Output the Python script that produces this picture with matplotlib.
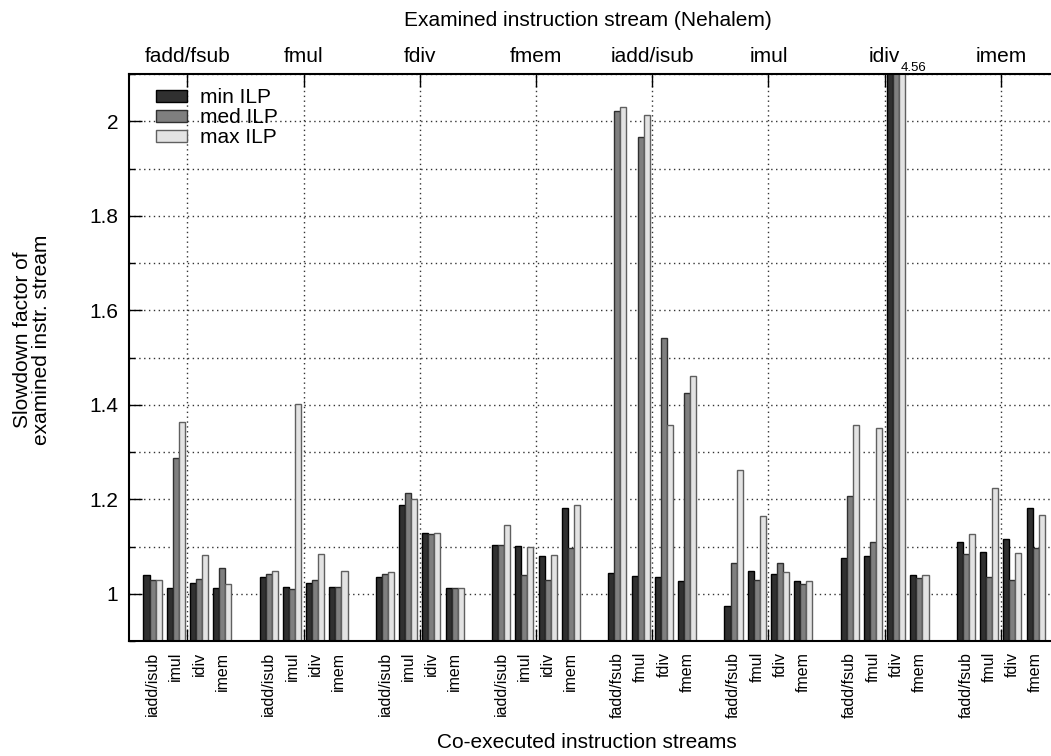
import matplotlib
matplotlib.use("Agg")
import matplotlib.pyplot as plt
from matplotlib.ticker import MultipleLocator
import numpy as np

plt.rcParams['font.family'] = ['Liberation Sans', 'DejaVu Sans']

# Examined instruction streams (top axis) and the streams co-executed with them
examined = ['fadd/fsub', 'fmul', 'fdiv', 'fmem', 'iadd/isub', 'imul', 'idiv', 'imem']
coexec_int = ['iadd/isub', 'imul', 'idiv', 'imem']
coexec_fp = ['fadd/fsub', 'fmul', 'fdiv', 'fmem']
coexec = [coexec_int] * 4 + [coexec_fp] * 4

series_names = ['min ILP', 'med ILP', 'max ILP']

# Slowdown factors, 4 co-executed streams per examined stream
min_ilp = [
    1.040, 1.013, 1.023, 1.013,   # fadd/fsub
    1.036, 1.014, 1.022, 1.014,   # fmul
    1.035, 1.188, 1.128, 1.013,   # fdiv
    1.103, 1.101, 1.080, 1.182,   # fmem
    1.043, 1.037, 1.035, 1.027,   # iadd/isub
    0.975, 1.049, 1.042, 1.028,   # imul
    1.076, 1.080, 4.56, 1.040,    # idiv
    1.110, 1.089, 1.115, 1.182,   # imem
]
med_ilp = [
    1.029, 1.288, 1.031, 1.054,
    1.042, 1.011, 1.029, 1.014,
    1.042, 1.213, 1.126, 1.013,
    1.104, 1.040, 1.029, 1.097,
    2.021, 1.967, 1.541, 1.424,
    1.066, 1.030, 1.066, 1.020,
    1.206, 1.109, 4.56, 1.034,
    1.085, 1.036, 1.030, 1.097,
]
max_ilp = [
    1.029, 1.364, 1.083, 1.021,
    1.048, 1.401, 1.085, 1.049,
    1.046, 1.200, 1.128, 1.013,
    1.145, 1.098, 1.081, 1.188,
    2.030, 2.013, 1.358, 1.461,
    1.262, 1.164, 1.045, 1.026,
    1.358, 1.351, 4.56, 1.040,
    1.126, 1.224, 1.087, 1.167,
]

fill_colors = ['#303030', '#7f7f7f', '#e3e3e3']
edge_colors = ['#000000', '#303030', '#606060']

Y_MIN, Y_MAX = 0.9, 2.1
BIG = 15

fig = plt.figure(figsize=(10.51, 7.56), dpi=100)
ax = fig.add_axes([129.3 / 1051, 115 / 756, (1051 - 129.3) / 1051, 567 / 756])

# Slot layout: 4 clusters per examined stream plus one empty slot between groups
n_groups = len(examined)
pos = np.array([5 * g + k for g in range(n_groups) for k in range(4)], dtype=float)
group_centers = np.array([5 * g + 1.5 for g in range(n_groups)])

bar_w = 0.26
for i, (vals, name) in enumerate(zip([min_ilp, med_ilp, max_ilp], series_names)):
    ax.bar(pos + (i - 1) * bar_w, vals, width=bar_w, color=fill_colors[i],
           edgecolor=edge_colors[i], linewidth=1.0, label=name, zorder=2)

# Value of the off-scale cluster, just above the clipped bars
big_idx = int(np.argmax(max_ilp))
ax.text(pos[big_idx] + 0.2, Y_MAX + 0.001, f"{max_ilp[big_idx]:.2f}",
        ha='left', va='bottom', fontsize=9.5, clip_on=False)

ax.set_xlim(-1.0, 38.66)
ax.set_ylim(Y_MIN, Y_MAX)
ax.set_axisbelow(True)

# y axis: labels every 0.2, dotted grid every 0.1
ax.yaxis.set_minor_locator(MultipleLocator(0.1))
ax.set_yticks([1.0, 1.2, 1.4, 1.6, 1.8, 2.0])
ax.set_yticklabels(['1', '1.2', '1.4', '1.6', '1.8', '2'])
ax.tick_params(axis='y', which='major', direction='in', length=9, width=1,
               labelsize=BIG, pad=8, right=False)
ax.tick_params(axis='y', which='minor', direction='in', length=4, width=1, right=False)
ax.grid(axis='y', which='both', linestyle=(0, (1, 2.5)), color='#333333', linewidth=1.0)

# x axis: group names on top, co-executed streams on the bottom
ax.set_xticks(group_centers)
ax.set_xticklabels(examined)
ax.set_xticks(pos, minor=True)
ax.set_xticklabels([lab for grp in coexec for lab in grp], minor=True, rotation=90)
ax.tick_params(axis='x', which='major', direction='in', length=9, width=1,
               top=True, bottom=True, labeltop=True, labelbottom=False,
               labelsize=BIG, pad=6)
ax.tick_params(axis='x', which='minor', length=0, top=False, bottom=False,
               labeltop=False, labelbottom=True, labelsize=11.5, pad=8)
for lab in ax.get_xticklabels(minor=True):
    lab.set_verticalalignment('top')
ax.grid(axis='x', which='major', linestyle=(0, (1, 2.5)), color='#333333', linewidth=1.0)

for side in ['left', 'top', 'bottom']:
    ax.spines[side].set_linewidth(1.5)
ax.spines['right'].set_visible(False)

ax.legend(loc='upper left', bbox_to_anchor=(0.015, 0.997), frameon=False,
          fontsize=BIG, handlelength=1.5, handleheight=0.5, handletextpad=0.65,
          labelspacing=0.05, borderaxespad=0.2)

fig.text(588 / 1051, 1 - 20 / 756, 'Examined instruction stream (Nehalem)',
         ha='center', va='center', fontsize=BIG)
fig.text(587 / 1051, 1 - 742 / 756, 'Co-executed instruction streams',
         ha='center', va='center', fontsize=BIG)
fig.text(32 / 1051, 1 - 340 / 756, 'Slowdown factor of\nexamined instr. stream',
         ha='center', va='center', rotation=90, fontsize=BIG, linespacing=1.05)

fig.savefig('out.png', dpi=100)
